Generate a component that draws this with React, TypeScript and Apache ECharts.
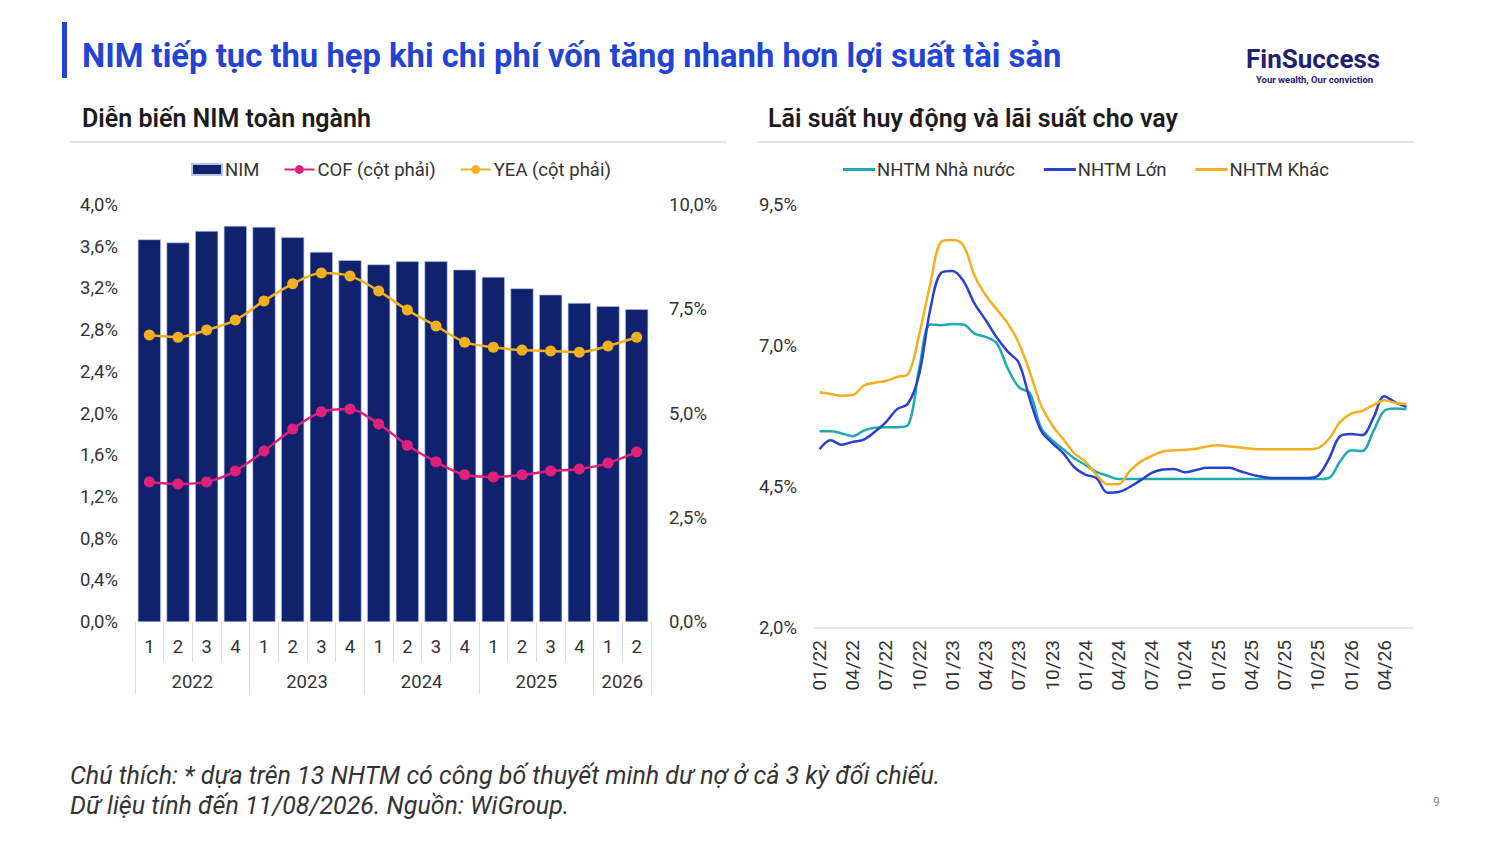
import React, { useEffect, useRef } from 'react';
import * as echarts from 'echarts';

// Left chart: quarterly NIM / COF / YEA
const quarters = ['1', '2', '3', '4', '1', '2', '3', '4', '1', '2', '3', '4', '1', '2', '3', '4', '1', '2'];
const years = ['2022', '2023', '2024', '2025', '2026'];
const quartersPerYear = [4, 4, 4, 4, 2];
const nim = [3.67, 3.64, 3.75, 3.8, 3.79, 3.69, 3.55, 3.47, 3.43, 3.46, 3.46, 3.38, 3.31, 3.2, 3.14, 3.06, 3.03, 3.0];
const cof = [3.36, 3.31, 3.36, 3.62, 4.1, 4.63, 5.04, 5.11, 4.75, 4.24, 3.84, 3.53, 3.48, 3.53, 3.62, 3.67, 3.81, 4.08];
const yea = [6.88, 6.83, 7.0, 7.24, 7.7, 8.11, 8.37, 8.3, 7.94, 7.48, 7.1, 6.71, 6.59, 6.52, 6.5, 6.47, 6.62, 6.83];

// Right chart: monthly rates by bank group
const months = [
  '01/22', '02/22', '03/22', '04/22', '05/22', '06/22', '07/22', '08/22', '09/22', '10/22', '11/22', '12/22',
  '01/23', '02/23', '03/23', '04/23', '05/23', '06/23', '07/23', '08/23', '09/23', '10/23', '11/23', '12/23',
  '01/24', '02/24', '03/24', '04/24', '05/24', '06/24', '07/24', '08/24', '09/24', '10/24', '11/24', '12/24',
  '01/25', '02/25', '03/25', '04/25', '05/25', '06/25', '07/25', '08/25', '09/25', '10/25', '11/25', '12/25',
  '01/26', '02/26', '03/26', '04/26', '05/26', '06/26',
];
const stateBanks = [
  5.49, 5.49, 5.45, 5.4, 5.5, 5.55, 5.56, 5.56, 5.6, 6.6, 7.38, 7.37,
  7.39, 7.38, 7.22, 7.16, 7.05, 6.6, 6.27, 6.16, 5.55, 5.33, 5.17, 5.01,
  4.89, 4.77, 4.7, 4.64, 4.64, 4.64, 4.64, 4.64, 4.64, 4.64, 4.64, 4.64,
  4.64, 4.64, 4.64, 4.64, 4.64, 4.64, 4.64, 4.64, 4.64, 4.64, 4.66, 4.95,
  5.15, 5.14, 5.48, 5.85, 5.89, 5.88,
];
const largeBanks = [
  5.17, 5.33, 5.25, 5.3, 5.34, 5.48, 5.65, 5.88, 5.98, 6.5, 7.65, 8.3,
  8.33, 8.15, 7.75, 7.46, 7.15, 6.9, 6.7, 6.05, 5.5, 5.28, 5.1, 4.85,
  4.72, 4.66, 4.4, 4.41, 4.5, 4.62, 4.75, 4.81, 4.82, 4.76, 4.8, 4.84,
  4.84, 4.84, 4.78, 4.72, 4.68, 4.66, 4.66, 4.66, 4.66, 4.7, 5.0, 5.4,
  5.44, 5.42, 5.72, 6.11, 6.0, 5.92,
];
const otherBanks = [
  6.18, 6.15, 6.12, 6.13, 6.3, 6.35, 6.38, 6.45, 6.5, 7.2, 8.1, 8.85,
  8.88, 8.78, 8.25, 7.9, 7.65, 7.4, 7.05, 6.53, 5.95, 5.6, 5.35, 5.1,
  4.95, 4.72, 4.55, 4.55, 4.78, 4.95, 5.05, 5.13, 5.15, 5.16, 5.18, 5.22,
  5.24, 5.22, 5.2, 5.18, 5.17, 5.17, 5.17, 5.17, 5.17, 5.19, 5.35, 5.65,
  5.8, 5.85, 5.95, 6.04, 5.99, 5.97,
];

const FONT = 'Roboto, "Noto Sans", sans-serif';
const TXT = '#333333';
const TICK = '#d7dcea';
const pct = (v: number) => `${v.toFixed(1).replace('.', ',')}%`;

export default function App() {
  const ref = useRef<HTMLDivElement | null>(null);

  useEffect(() => {
    if (!ref.current) return;
    const chart = echarts.init(ref.current, undefined, { renderer: 'svg' });

    // year group boundaries and centres on a continuous axis over the quarters
    const bounds: number[] = [-0.5];
    const centres: number[] = [];
    quartersPerYear.forEach((n) => {
      const start = bounds[bounds.length - 1];
      centres.push(start + n / 2);
      bounds.push(start + n);
    });

    const heading = (x: number, y: number, text: string, size: number, fill: string, weight = 'bold', style = 'normal') => ({
      type: 'text',
      x,
      y,
      style: {
        text,
        fill,
        fontSize: size,
        fontWeight: weight,
        fontStyle: style,
        fontFamily: FONT,
        verticalAlign: 'middle',
      },
    });

    chart.setOption({
      animation: false,
      textStyle: { fontFamily: FONT },
      graphic: [
        { type: 'rect', shape: { x: 62, y: 22, width: 5, height: 56 }, style: { fill: '#2343d3' } },
        heading(82, 56, 'NIM tiếp tục thu hẹp khi chi phí vốn tăng nhanh hơn lợi suất tài sản', 32.8, '#2343d3'),
        heading(1246, 59, 'FinSuccess', 26, '#1f2170'),
        heading(1256, 79, 'Your wealth, Our conviction', 9.5, '#1f2170'),
        heading(82, 118, 'Diễn biến NIM toàn ngành', 25, '#1b1b1b', '600'),
        heading(768, 118, 'Lãi suất huy động và lãi suất cho vay', 25, '#1b1b1b', '600'),
        { type: 'line', shape: { x1: 70, y1: 142, x2: 727, y2: 142 }, style: { stroke: '#e3e5ea', lineWidth: 2 } },
        { type: 'line', shape: { x1: 757, y1: 142, x2: 1414, y2: 142 }, style: { stroke: '#e3e5ea', lineWidth: 2 } },
        heading(70, 775, 'Chú thích: * dựa trên 13 NHTM có công bố thuyết minh dư nợ ở cả 3 kỳ đối chiếu.', 25, '#333', 'normal', 'italic'),
        heading(70, 805, 'Dữ liệu tính đến 11/08/2026. Nguồn: WiGroup.', 25, '#333', 'normal', 'italic'),
        heading(1433, 802, '9', 12, '#888', 'normal'),
      ],
      legend: [
        {
          left: 191,
          top: 160,
          padding: 0,
          itemWidth: 30,
          itemHeight: 11,
          itemGap: 24,
          textStyle: { fontSize: 18.5, color: TXT, fontFamily: FONT, padding: [0, 0, 0, -2] },
          data: [{ name: 'NIM', icon: 'rect' }, 'COF (cột phải)', 'YEA (cột phải)'],
        },
        {
          left: 843,
          top: 160,
          padding: 0,
          itemWidth: 32,
          itemHeight: 3,
          itemGap: 29,
          icon: 'rect',
          textStyle: { fontSize: 18.5, color: TXT, fontFamily: FONT, padding: [0, 0, 0, -3] },
          data: ['NHTM Nhà nước', 'NHTM Lớn', 'NHTM Khác'],
        },
      ],
      grid: [
        { left: 135, right: 849, top: 205, height: 417 },
        { left: 814, right: 88, top: 205, height: 423 },
      ],
      xAxis: [
        {
          type: 'category',
          gridIndex: 0,
          data: quarters,
          axisLine: { show: false },
          axisTick: { show: true, interval: 0, length: 40, lineStyle: { color: TICK } },
          axisLabel: { interval: 0, fontSize: 18.5, color: TXT, margin: 15 },
        },
        {
          type: 'value',
          gridIndex: 0,
          min: -0.5,
          max: quarters.length - 0.5,
          position: 'bottom',
          axisLine: { show: false },
          splitLine: { show: false },
          axisTick: { show: true, customValues: bounds, length: 73, lineStyle: { color: TICK } },
          axisLabel: {
            customValues: centres,
            fontSize: 18.5,
            color: TXT,
            margin: 50,
            formatter: (v: number) => years[centres.findIndex((c) => Math.abs(c - v) < 0.01)] ?? '',
          },
        },
        {
          type: 'category',
          gridIndex: 1,
          data: months,
          boundaryGap: true,
          axisLine: { show: true, lineStyle: { color: '#d9dde8', width: 1.5 } },
          axisTick: { show: false },
          axisLabel: { interval: 2, rotate: 90, fontSize: 19, color: TXT, margin: 12 },
        },
      ],
      yAxis: [
        {
          type: 'value',
          gridIndex: 0,
          min: 0,
          max: 4,
          interval: 0.4,
          splitLine: { show: false },
          axisLine: { show: false },
          axisTick: { show: false },
          axisLabel: { fontSize: 18.5, color: TXT, margin: 17, formatter: pct },
        },
        {
          type: 'value',
          gridIndex: 0,
          position: 'right',
          min: 0,
          max: 10,
          interval: 2.5,
          splitLine: { show: false },
          axisLine: { show: false },
          axisTick: { show: false },
          axisLabel: { fontSize: 18.5, color: TXT, margin: 18, formatter: pct },
        },
        {
          type: 'value',
          gridIndex: 1,
          min: 2,
          max: 9.5,
          interval: 2.5,
          splitLine: { show: false },
          axisLine: { show: false },
          axisTick: { show: false },
          axisLabel: { fontSize: 18.5, color: TXT, margin: 17, formatter: pct },
        },
      ],
      series: [
        {
          name: 'NIM',
          type: 'bar',
          xAxisIndex: 0,
          yAxisIndex: 0,
          data: nim,
          barWidth: 23,
          itemStyle: { color: '#10216e', borderColor: '#b9c4ea', borderWidth: 0.6 },
        },
        {
          name: 'COF (cột phải)',
          type: 'line',
          xAxisIndex: 0,
          yAxisIndex: 1,
          data: cof,
          smooth: 0.3,
          symbol: 'circle',
          symbolSize: 11,
          lineStyle: { width: 2.5, color: '#e0207a' },
          itemStyle: { color: '#e0207a' },
        },
        {
          name: 'YEA (cột phải)',
          type: 'line',
          xAxisIndex: 0,
          yAxisIndex: 1,
          data: yea,
          smooth: 0.3,
          symbol: 'circle',
          symbolSize: 11,
          lineStyle: { width: 2.5, color: '#f2b01e' },
          itemStyle: { color: '#f2b01e' },
        },
        {
          name: 'NHTM Nhà nước',
          type: 'line',
          xAxisIndex: 2,
          yAxisIndex: 2,
          data: stateBanks,
          smooth: 0.35,
          symbol: 'none',
          lineStyle: { width: 2.5, color: '#1fa9b1' },
          itemStyle: { color: '#1fa9b1' },
        },
        {
          name: 'NHTM Lớn',
          type: 'line',
          xAxisIndex: 2,
          yAxisIndex: 2,
          data: largeBanks,
          smooth: 0.35,
          symbol: 'none',
          lineStyle: { width: 2.5, color: '#2a42cb' },
          itemStyle: { color: '#2a42cb' },
        },
        {
          name: 'NHTM Khác',
          type: 'line',
          xAxisIndex: 2,
          yAxisIndex: 2,
          data: otherBanks,
          smooth: 0.35,
          symbol: 'none',
          lineStyle: { width: 2.5, color: '#f1b020' },
          itemStyle: { color: '#f1b020' },
        },
      ],
    });

    return () => chart.dispose();
  }, []);

  return (
    <div
      ref={ref}
      style={{ position: 'absolute', left: 0, top: 0, width: 1500, height: 844, background: '#ffffff' }}
    />
  );
}
